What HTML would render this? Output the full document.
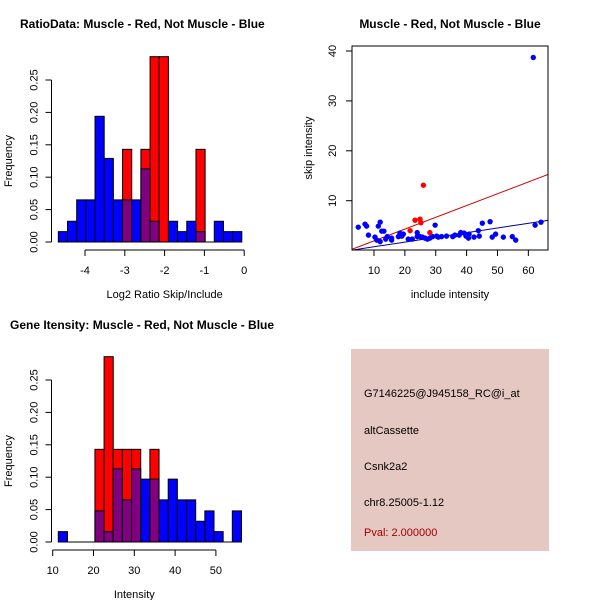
<!DOCTYPE html>
<html><head><meta charset="utf-8"><style>
body{margin:0;background:#fff}
svg{display:block;font-family:"Liberation Sans",sans-serif}
</style></head><body>
<svg id="s" width="600" height="600" viewBox="0 0 600 600">
<rect width="600" height="600" fill="#fff"/>
<text x="20" y="28" font-size="12" font-weight="bold">RatioData: Muscle - Red, Not Muscle - Blue</text>
<text x="450" y="28" font-size="12" font-weight="bold" text-anchor="middle">Muscle - Red, Not Muscle - Blue</text>
<text x="10" y="329" font-size="12" font-weight="bold">Gene Itensity: Muscle - Red, Not Muscle - Blue</text>
<g id="h1"></g>
<g id="h2"></g>
<g id="sc"></g>
<g>
<rect x="351" y="349" width="198" height="202" fill="#e6c8c2"/>
<text x="364" y="397" font-size="11">G7146225@J945158_RC@i_at</text>
<text x="364" y="434" font-size="11">altCassette</text>
<text x="364" y="470" font-size="11">Csnk2a2</text>
<text x="364" y="506" font-size="11">chr8.25005-1.12</text>
<text x="364" y="536" font-size="11" fill="#a00000">Pval: 2.000000</text>
</g>
</svg>
<script>
const ratioStart=-4.67, ratioWidth=0.2305;
const ratioBlue=[0.016,0.032,0.065,0.065,0.194,0.129,0.065,0.065,0.065,0.113,0.032,0,0.032,0.016,0.032,0.016,0,0.032,0.016,0.016];
const ratioRed=[0,0,0,0,0,0,0,0.143,0,0.143,0.286,0.286,0,0,0,0.143,0,0,0,0];
const ratioXTicks=[-4,-3,-2,-1,0];
const intStart=11.37, intWidth=2.245;
const intBlue=[0.016,0,0,0,0.048,0.016,0.113,0.065,0.113,0.097,0.097,0.065,0.097,0.065,0.065,0.032,0.048,0.016,0,0.048];
const intRed=[0,0,0,0,0.143,0.286,0.143,0.143,0.143,0,0.143,0,0,0,0,0,0,0,0,0];
const intXTicks=[10,20,30,40,50];
const yTicks=[0,0.05,0.10,0.15,0.20,0.25];
const yTickLabels=["0.00","0.05","0.10","0.15","0.20","0.25"];
const blueX=[4.9,7.1,7.6,8.2,10.3,10.9,11.4,12,12,12.5,13.2,13.8,14.3,15.7,15.7,17.9,18.4,19,19.5,21.1,22.4,24,24,24.9,25.7,26.5,27.3,28.1,29,29.8,30.3,30.8,31.9,33.5,35.5,36.2,37.6,38.1,39.2,39.8,40.6,40.8,42.4,43.8,44.1,45.1,47.6,48.3,49.4,51.9,54.8,55.9,61.6,62.2,64.1];
const blueY=[4.7,5.3,4.9,3.1,2.7,2.1,4.9,5.7,1.8,3.9,3.9,2.3,2.8,2.5,2.1,2.8,3.5,2.9,3.3,2.3,2.3,3.6,2.8,2.8,2.7,2.5,2.3,2.5,2.8,5.1,2.9,2.7,2.8,2.9,2.8,3.1,3.1,3.6,3.5,2.9,2.5,3.3,2.7,4,2.9,5.5,5.8,2.7,3.3,2.7,2.8,2.1,38.7,5.1,5.7];
const redX=[21.7,23.3,24.9,25.2,26,28.1];
const redY=[4,6.1,6.3,5.6,13.1,3.6];
const redFit=[-0.41,0.236], blueFit=[-0.17,0.094];
const scXTicks=[10,20,30,40,50,60], scYTicks=[10,20,30,40];
const NS='http://www.w3.org/2000/svg';
function mk(p,t,a){const e=document.createElementNS(NS,t);for(const k in a)e.setAttribute(k,a[k]);p.appendChild(e);return e;}
function hist(g,start,w,blue,red,xt,xs,ys,y0,xlab){
  const X=v=>xs[0]+(v-xs[1])*xs[2], Y=v=>y0-v*ys;
  for(let i=0;i<blue.length;i++){
    const a=start+i*w,b=a+w, bl=blue[i], rd=red[i], lo=Math.min(bl,rd), hi=Math.max(bl,rd);
    if(hi<=0)continue;
    const top=mk(g,'rect',{x:X(a),y:Y(hi),width:X(b)-X(a),height:Y(0)-Y(hi),fill:rd>=bl?'#ff0000':'#0000ff',stroke:'#000','stroke-width':1});
    
    
    if(lo>0){const o=mk(g,'rect',{x:X(a),y:Y(lo),width:X(b)-X(a),height:Y(0)-Y(lo),fill:'#800080',stroke:'#000','stroke-width':1});
      
      }
  }
  mk(g,'line',{x1:X(start),x2:X(start+w*blue.length),y1:y0,y2:y0,stroke:'#000'});
  const ax=y0+8;
  mk(g,'line',{x1:X(xt[0]),x2:X(xt[xt.length-1]),y1:ax,y2:ax,stroke:'#000'});
  xt.forEach(v=>{mk(g,'line',{x1:X(v),x2:X(v),y1:ax,y2:ax+6,stroke:'#000'});
    const t=mk(g,'text',{x:X(v),y:ax+24,'font-size':11,'text-anchor':'middle'});t.textContent=v;
    
    });
  const yx=51.5;
  mk(g,'line',{x1:yx,x2:yx,y1:Y(0),y2:Y(0.25),stroke:'#000'});
  yTicks.forEach((v,i)=>{mk(g,'line',{x1:yx-6,x2:yx,y1:Y(v),y2:Y(v),stroke:'#000'});
    const t=mk(g,'text',{x:0,y:0,'font-size':11,'text-anchor':'middle',transform:`translate(${yx-14},${Y(v)}) rotate(-90)`});t.textContent=yTickLabels[i];
    
    });
  const f=mk(g,'text',{x:0,y:0,'font-size':11,'text-anchor':'middle',transform:`translate(12,${Y(0.125)}) rotate(-90)`});f.textContent='Frequency';
  
  
  const xl=mk(g,'text',{x:X((xt[0]+xt[xt.length-1])/2),y:y0+56,'font-size':11,'text-anchor':'middle'});xl.textContent=xlab;
  
  
}
hist(document.getElementById('h1'),ratioStart,ratioWidth,ratioBlue,ratioRed,ratioXTicks,[85,-4,39.8],648,242,'Log2 Ratio Skip/Include');
hist(document.getElementById('h2'),intStart,intWidth,intBlue,intRed,intXTicks,[52.7,10,4.08],648,542,'Intensity');
(function(){
  const g=document.getElementById('sc');
  const X=v=>374+(v-10)*3.087, Y=v=>200.7-(v-10)*4.99;
  const L=352,R=548,T=46,B=250;
  const clip=mk(g,'clipPath',{id:'cp'});mk(clip,'rect',{x:L,y:T,width:R-L,height:B-T});
  const xmin=(L-374)/3.087+10, xmax=(R-374)/3.087+10;
  [[blueFit,'#00008b'],[redFit,'#cc0000']].forEach(([f,c])=>{
    const l=mk(g,'line',{x1:X(xmin),y1:Y(f[0]+f[1]*xmin),x2:X(xmax),y2:Y(f[0]+f[1]*xmax),stroke:c,'clip-path':'url(#cp)'});
    
    });
  blueX.forEach((x,i)=>{const c=mk(g,'circle',{cx:X(x),cy:Y(blueY[i]),r:2.7,fill:'#0000ff'});
    
    });
  redX.forEach((x,i)=>{const c=mk(g,'circle',{cx:X(x),cy:Y(redY[i]),r:2.7,fill:'#ff0000'});
    
    });
  mk(g,'rect',{x:L,y:T,width:R-L,height:B-T,fill:'none',stroke:'#000'});
  scXTicks.forEach(v=>{mk(g,'line',{x1:X(v),x2:X(v),y1:B,y2:B+6,stroke:'#000'});
    const t=mk(g,'text',{x:X(v),y:B+24,'font-size':11,'text-anchor':'middle'});t.textContent=v;
    
    });
  scYTicks.forEach(v=>{mk(g,'line',{x1:L-6,x2:L,y1:Y(v),y2:Y(v),stroke:'#000'});
    const t=mk(g,'text',{x:0,y:0,'font-size':11,'text-anchor':'middle',transform:`translate(${L-16},${Y(v)}) rotate(-90)`});t.textContent=v;
    
    });
  const xl=mk(g,'text',{x:450,y:298,'font-size':11,'text-anchor':'middle'});xl.textContent='include intensity';
  
  
  const yl=mk(g,'text',{x:0,y:0,'font-size':11,'text-anchor':'middle',transform:`translate(312,148) rotate(-90)`});yl.textContent='skip intensity';
  
  
})();
</script>
</body></html>
